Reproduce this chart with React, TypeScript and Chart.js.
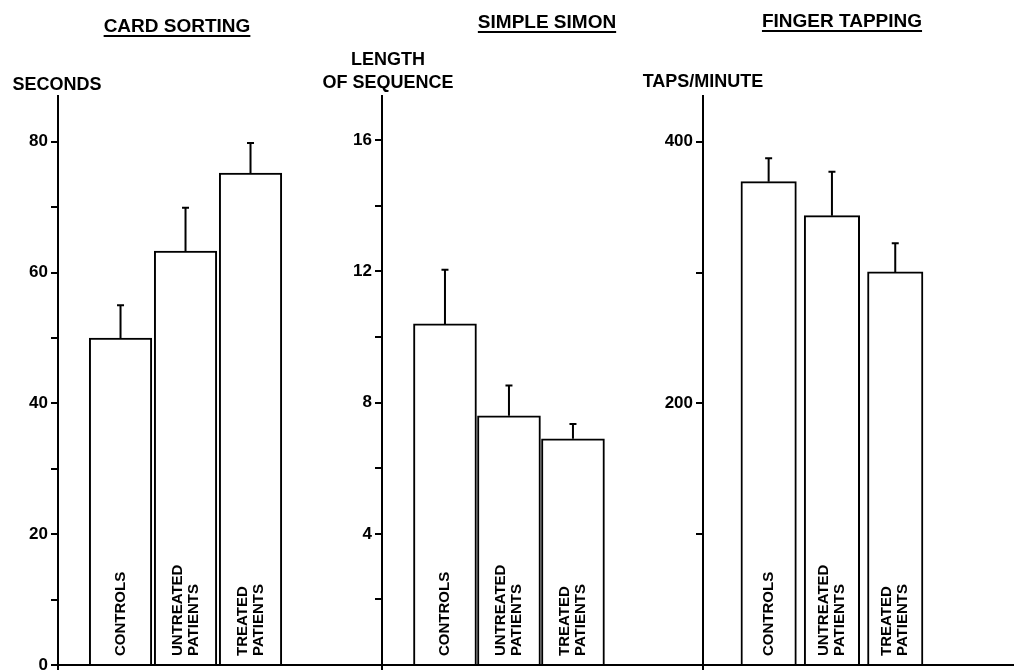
import React, { useEffect, useRef } from 'react';
import { Chart, registerables } from 'chart.js';

Chart.register(...registerables);

// ---- data ----
const categories = ['CONTROLS', 'UNTREATED PATIENTS', 'TREATED PATIENTS'];

const cardMeans = [50, 63.3, 75.2];
const cardErrors = [5, 6.6, 4.6];
const cardTickLabels = [0, 20, 40, 60, 80];

const simonMeans = [10.4, 7.6, 6.9];
const simonErrors = [1.65, 0.92, 0.45];
const simonTickLabels = [4, 8, 12, 16];

const tappingMeans = [369.5, 343.5, 300.5];
const tappingErrors = [18, 33.5, 22];
const tappingTickLabels = [200, 400];

const titles = ['CARD SORTING', 'SIMPLE SIMON', 'FINGER TAPPING'];
const unitLabels = [['SECONDS'], ['LENGTH', 'OF SEQUENCE'], ['TAPS/MINUTE']];

const FONT = "'Liberation Sans', Arial, sans-serif";
const W = 1014;
const H = 670;

type Panel = {
  title: string;
  titleX: number;
  titleY: number;
  unit: string[];
  unitX: number;
  unitY: number[];
  means: number[];
  errors: number[];
  tickLabels: number[];
  yMax: number;
  step: number;
  axisX: number;
  rightX: number;
  xMin: number;
  xMax: number;
};

const panels: Panel[] = [
  {
    title: titles[0], titleX: 177, titleY: 32,
    unit: unitLabels[0], unitX: 57, unitY: [90],
    means: cardMeans, errors: cardErrors, tickLabels: cardTickLabels,
    yMax: 87, step: 10, axisX: 58, rightX: 382, xMin: 0.038, xMax: 5.023,
  },
  {
    title: titles[1], titleX: 547, titleY: 28,
    unit: unitLabels[1], unitX: 388, unitY: [65, 88],
    means: simonMeans, errors: simonErrors, tickLabels: simonTickLabels,
    yMax: 17.35, step: 2, axisX: 382, rightX: 703, xMin: 0.016, xMax: 5.032,
  },
  {
    title: titles[2], titleX: 842, titleY: 27,
    unit: unitLabels[2], unitX: 703, unitY: [87],
    means: tappingMeans, errors: tappingErrors, tickLabels: tappingTickLabels,
    yMax: 435, step: 100, axisX: 703, rightX: W, xMin: -0.037, xMax: 4.876,
  },
];

function makeChart(canvas: HTMLCanvasElement, p: Panel) {
  const Y_AXIS_W = 50;
  const textPlugin = {
    id: 'panelText',
    afterDraw(chart: any) {
      const ctx = chart.ctx;
      ctx.save();
      ctx.fillStyle = '#000';
      ctx.strokeStyle = '#000';
      // title with underline
      ctx.font = `bold 19px ${FONT}`;
      ctx.textAlign = 'center';
      ctx.textBaseline = 'alphabetic';
      ctx.fillText(p.title, p.titleX, p.titleY);
      const tw = ctx.measureText(p.title).width;
      ctx.lineWidth = 2;
      ctx.beginPath();
      ctx.moveTo(p.titleX - tw / 2, p.titleY + 4);
      ctx.lineTo(p.titleX + tw / 2, p.titleY + 4);
      ctx.stroke();
      // unit label
      ctx.font = `bold 18px ${FONT}`;
      p.unit.forEach((u, i) => ctx.fillText(u, p.unitX, p.unitY[i]));
      // axis extension below baseline
      const ca = chart.chartArea;
      ctx.beginPath();
      ctx.moveTo(ca.left, ca.bottom);
      ctx.lineTo(ca.left, ca.bottom + 5);
      ctx.stroke();
      ctx.restore();
    },
    afterDatasetsDraw(chart: any) {
      const ctx = chart.ctx;
      const meta = chart.getDatasetMeta(0);
      const yScale = chart.scales.y;
      const ca = chart.chartArea;
      ctx.save();
      ctx.strokeStyle = '#000';
      ctx.fillStyle = '#000';
      meta.data.forEach((bar: any, i: number) => {
        // error bar
        const top = yScale.getPixelForValue(p.means[i] + p.errors[i]);
        ctx.lineWidth = 2;
        ctx.beginPath();
        ctx.moveTo(bar.x, bar.y);
        ctx.lineTo(bar.x, top);
        ctx.moveTo(bar.x - 3.5, top);
        ctx.lineTo(bar.x + 3.5, top);
        ctx.stroke();
        // rotated category label
        const lines = categories[i].split(' ');
        ctx.save();
        ctx.translate(bar.x, ca.bottom - 9);
        ctx.rotate(-Math.PI / 2);
        ctx.font = `bold 15px ${FONT}`;
        ctx.textAlign = 'left';
        ctx.textBaseline = 'middle';
        lines.forEach((l, j) => {
          ctx.fillText(l, 0, (j - (lines.length - 1) / 2) * 16);
        });
        ctx.restore();
      });
      ctx.restore();
    },
  };

  return new Chart(canvas, {
    type: 'bar',
    data: {
      labels: categories,
      datasets: [
        {
          data: p.means.map((m, i) => ({ x: i + 1, y: m })) as any,
          backgroundColor: '#fff',
          borderColor: '#000',
          borderWidth: { top: 2, left: 2, right: 2, bottom: 0 } as any,
          borderSkipped: 'start',
          barPercentage: 1,
          categoryPercentage: 1,
        },
      ],
    },
    options: {
      animation: false,
      responsive: false,
      maintainAspectRatio: false,
      devicePixelRatio: 1,
      events: [],
      layout: {
        padding: {
          left: p.axisX - Y_AXIS_W,
          right: W - p.rightX,
          top: 96,
          bottom: 5,
        },
      },
      plugins: {
        legend: { display: false },
        tooltip: { enabled: false },
        title: { display: false },
      },
      scales: {
        x: {
          type: 'linear',
          min: p.xMin,
          max: p.xMax,
          offset: false,
          afterFit: (s: any) => { s.height = 0; s.paddingLeft = 0; s.paddingRight = 0; },
          ticks: { display: false },
          grid: { display: false },
          border: { display: true, color: '#000', width: 2 },
        },
        y: {
          type: 'linear',
          min: 0,
          max: p.yMax,
          afterFit: (s: any) => { s.width = Y_AXIS_W; s.paddingTop = 0; s.paddingBottom = 0; },
          ticks: {
            stepSize: p.step,
            autoSkip: false,
            includeBounds: false,
            padding: 3,
            color: '#000',
            font: { family: FONT, size: 17, weight: 'bold' },
            callback: (v: any) => (p.tickLabels.includes(Number(v)) ? String(v) : ''),
          },
          grid: {
            drawOnChartArea: false,
            drawTicks: true,
            tickLength: 7,
            color: '#000',
            lineWidth: 2,
          },
          border: { display: true, color: '#000', width: 2 },
        },
      },
    } as any,
    plugins: [textPlugin],
  });
}

export default function App() {
  const refs = [useRef<HTMLCanvasElement>(null), useRef<HTMLCanvasElement>(null), useRef<HTMLCanvasElement>(null)];

  useEffect(() => {
    const charts = panels.map((p, i) => makeChart(refs[i].current as HTMLCanvasElement, p));
    return () => charts.forEach((c) => c.destroy());
  }, []);

  return (
    <div style={{ position: 'absolute', left: 0, top: 0, width: W, height: H, background: '#fff' }}>
      {panels.map((p, i) => (
        <canvas
          key={i}
          ref={refs[i]}
          width={W}
          height={H}
          style={{ position: 'absolute', left: 0, top: 0, width: W, height: H }}
        />
      ))}
    </div>
  );
}
